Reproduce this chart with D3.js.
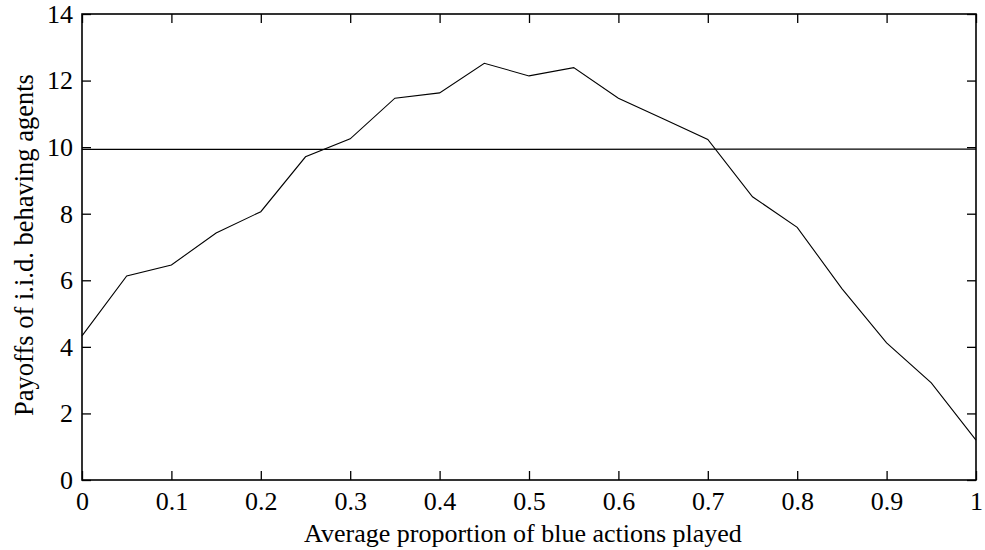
<!DOCTYPE html>
<html>
<head>
<meta charset="utf-8">
<script src="https://cdn.jsdelivr.net/npm/d3@7"></script>
<style>
  body { margin: 0; background: #fff; }
  text { font-family: "Liberation Serif", "Times New Roman", serif; fill: #000; }
</style>
</head>
<body>
<svg id="chart" width="985" height="550"></svg>
<script>
// proportion of blue actions played
const xValues = [0, 0.05, 0.1, 0.15, 0.2, 0.25, 0.3, 0.35, 0.4, 0.45, 0.5,
                 0.55, 0.6, 0.65, 0.7, 0.75, 0.8, 0.85, 0.9, 0.95, 1];
// payoffs of i.i.d. behaving agents
const payoffs = [4.33, 6.13, 6.46, 7.42, 8.06, 9.71, 10.25, 11.47, 11.63, 12.52, 12.14,
                 12.39, 11.47, 10.85, 10.23, 8.51, 7.59, 5.75, 4.12, 2.92, 1.2];
// reference level
const refLevel = [9.93, 9.94];
const xTicks = [0, 0.1, 0.2, 0.3, 0.4, 0.5, 0.6, 0.7, 0.8, 0.9, 1];
const yTicks = [0, 2, 4, 6, 8, 10, 12, 14];

const width = 985, height = 550;
const margins = {left: 82, right: 9, top: 14, bottom: 70};

const vis = d3.select('#chart');
const xScale = d3.scaleLinear().domain([0, 1]).range([margins.left, width - margins.right]);
const yScale = d3.scaleLinear().domain([0, 14]).range([height - margins.bottom, margins.top]);

const tickFmt = d => d3.format('')(d);

//Bottom axis with labels, ticks inward
vis.append('g')
  .attr('class', 'axis')
  .attr('transform', 'translate(0,' + (height - margins.bottom) + ')')
  .call(d3.axisBottom(xScale).tickValues(xTicks).tickSize(-9).tickSizeOuter(0).tickPadding(12).tickFormat(tickFmt));

//Left axis
vis.append('g')
  .attr('class', 'axis')
  .attr('transform', 'translate(' + margins.left + ',0)')
  .call(d3.axisLeft(yScale).tickValues(yTicks).tickSize(-9).tickSizeOuter(0).tickPadding(9).tickFormat(tickFmt));

//Top + right mirror ticks, no labels
vis.append('g')
  .attr('class', 'axis')
  .attr('transform', 'translate(0,' + margins.top + ')')
  .call(d3.axisTop(xScale).tickValues(xTicks).tickSize(-9).tickSizeOuter(0).tickFormat(''));
vis.append('g')
  .attr('class', 'axis')
  .attr('transform', 'translate(' + (width - margins.right) + ',0)')
  .call(d3.axisRight(yScale).tickValues(yTicks).tickSize(-9).tickSizeOuter(0).tickFormat(''));

d3.selectAll('.axis').attr('font-family', null).attr('font-size', null);
d3.selectAll('.axis path.domain').remove();
d3.selectAll('.axis .tick line').attr('stroke', '#000').attr('stroke-width', 1.3);
d3.selectAll('.axis .tick text').style('font-size', '26px');

//Frame
vis.append('rect')
  .attr('x', margins.left)
  .attr('y', margins.top)
  .attr('width', width - margins.left - margins.right)
  .attr('height', height - margins.top - margins.bottom)
  .attr('fill', 'none')
  .attr('stroke', '#000')
  .attr('stroke-width', 1.6);

//Reference line
vis.append('path')
  .attr('d', d3.line().x((d, i) => xScale(i)).y(d => yScale(d))(refLevel))
  .attr('stroke', '#000')
  .attr('stroke-width', 1.3)
  .attr('fill', 'none');

//Payoff curve
const lineGen = d3.line()
  .x((d, i) => xScale(xValues[i]))
  .y(d => yScale(d));

vis.append('path')
  .attr('d', lineGen(payoffs))
  .attr('stroke', '#000')
  .attr('stroke-width', 1.1)
  .attr('fill', 'none');

//X axis label
vis.append('text')
  .attr('x', 523)
  .attr('y', 542)
  .style('text-anchor', 'middle')
  .style('font-size', '26px')
  .text('Average proportion of blue actions played');

//Y axis label
vis.append('text')
  .attr('transform', 'translate(33,245) rotate(-90)')
  .style('text-anchor', 'middle')
  .style('font-size', '26.5px')
  .text('Payoffs of i.i.d. behaving agents');
</script>
</body>
</html>
